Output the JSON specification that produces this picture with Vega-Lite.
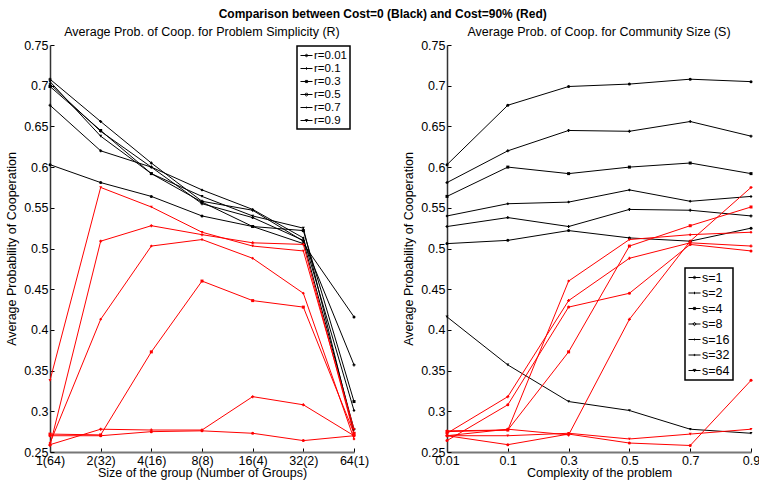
{
  "$schema": "https://vega.github.io/schema/vega-lite/v6.json",
  "padding": {"left": 5, "top": 7, "right": 0, "bottom": 5},
  "title": {
    "text": "Comparison between Cost=0 (Black) and Cost=90% (Red)",
    "fontSize": 12,
    "fontWeight": "bold",
    "anchor": "middle",
    "offset": 5
  },
  "config": {
    "font": "Liberation Sans",
    "view": {"stroke": null},
    "title": {"font": "Liberation Sans", "fontSize": 12.5, "fontWeight": "normal", "color": "black", "offset": 1},
    "axis": {
      "labelFont": "Liberation Sans",
      "labelFontSize": 12.5,
      "labelColor": "black",
      "titleFont": "Liberation Sans",
      "titleFontSize": 12.5,
      "titleFontWeight": "normal",
      "titleColor": "black",
      "grid": false,
      "tickColor": "black",
      "tickSize": -4,
      "domainColor": "#333333",
      "domainWidth": 1.5
    },
    "axisX": {"domainColor": "#777777", "domainWidth": 2, "labelPadding": 6, "titlePadding": 0},
    "axisY": {"labelPadding": 6, "titlePadding": 5},
    "legend": {
      "labelFont": "Liberation Sans",
      "labelColor": "black",
      "strokeColor": "black",
      "strokeWidth": 1.5,
      "fillColor": "white",
      "padding": 3,
      "title": null,
      "labelOffset": 1
    }
  },
  "datasets": {
    "coop": [
      {"r": 0.01, "s": 1, "cost": "0", "p": 0.603},
      {"r": 0.01, "s": 2, "cost": "0", "p": 0.581},
      {"r": 0.01, "s": 4, "cost": "0", "p": 0.564},
      {"r": 0.01, "s": 8, "cost": "0", "p": 0.540},
      {"r": 0.01, "s": 16, "cost": "0", "p": 0.527},
      {"r": 0.01, "s": 32, "cost": "0", "p": 0.506},
      {"r": 0.01, "s": 64, "cost": "0", "p": 0.416},
      {"r": 0.1, "s": 1, "cost": "0", "p": 0.676},
      {"r": 0.1, "s": 2, "cost": "0", "p": 0.620},
      {"r": 0.1, "s": 4, "cost": "0", "p": 0.600},
      {"r": 0.1, "s": 8, "cost": "0", "p": 0.555},
      {"r": 0.1, "s": 16, "cost": "0", "p": 0.538},
      {"r": 0.1, "s": 32, "cost": "0", "p": 0.510},
      {"r": 0.1, "s": 64, "cost": "0", "p": 0.357},
      {"r": 0.3, "s": 1, "cost": "0", "p": 0.699},
      {"r": 0.3, "s": 2, "cost": "0", "p": 0.645},
      {"r": 0.3, "s": 4, "cost": "0", "p": 0.592},
      {"r": 0.3, "s": 8, "cost": "0", "p": 0.557},
      {"r": 0.3, "s": 16, "cost": "0", "p": 0.527},
      {"r": 0.3, "s": 32, "cost": "0", "p": 0.522},
      {"r": 0.3, "s": 64, "cost": "0", "p": 0.312},
      {"r": 0.5, "s": 1, "cost": "0", "p": 0.702},
      {"r": 0.5, "s": 2, "cost": "0", "p": 0.644},
      {"r": 0.5, "s": 4, "cost": "0", "p": 0.600},
      {"r": 0.5, "s": 8, "cost": "0", "p": 0.572},
      {"r": 0.5, "s": 16, "cost": "0", "p": 0.548},
      {"r": 0.5, "s": 32, "cost": "0", "p": 0.513},
      {"r": 0.5, "s": 64, "cost": "0", "p": 0.301},
      {"r": 0.7, "s": 1, "cost": "0", "p": 0.708},
      {"r": 0.7, "s": 2, "cost": "0", "p": 0.656},
      {"r": 0.7, "s": 4, "cost": "0", "p": 0.605},
      {"r": 0.7, "s": 8, "cost": "0", "p": 0.558},
      {"r": 0.7, "s": 16, "cost": "0", "p": 0.547},
      {"r": 0.7, "s": 32, "cost": "0", "p": 0.509},
      {"r": 0.7, "s": 64, "cost": "0", "p": 0.278},
      {"r": 0.9, "s": 1, "cost": "0", "p": 0.705},
      {"r": 0.9, "s": 2, "cost": "0", "p": 0.638},
      {"r": 0.9, "s": 4, "cost": "0", "p": 0.592},
      {"r": 0.9, "s": 8, "cost": "0", "p": 0.564},
      {"r": 0.9, "s": 16, "cost": "0", "p": 0.540},
      {"r": 0.9, "s": 32, "cost": "0", "p": 0.525},
      {"r": 0.9, "s": 64, "cost": "0", "p": 0.273},
      {"r": 0.01, "s": 1, "cost": "90%", "p": 0.270},
      {"r": 0.01, "s": 2, "cost": "90%", "p": 0.270},
      {"r": 0.01, "s": 4, "cost": "90%", "p": 0.275},
      {"r": 0.01, "s": 8, "cost": "90%", "p": 0.276},
      {"r": 0.01, "s": 16, "cost": "90%", "p": 0.273},
      {"r": 0.01, "s": 32, "cost": "90%", "p": 0.264},
      {"r": 0.01, "s": 64, "cost": "90%", "p": 0.270},
      {"r": 0.1, "s": 1, "cost": "90%", "p": 0.259},
      {"r": 0.1, "s": 2, "cost": "90%", "p": 0.278},
      {"r": 0.1, "s": 4, "cost": "90%", "p": 0.277},
      {"r": 0.1, "s": 8, "cost": "90%", "p": 0.277},
      {"r": 0.1, "s": 16, "cost": "90%", "p": 0.318},
      {"r": 0.1, "s": 32, "cost": "90%", "p": 0.308},
      {"r": 0.1, "s": 64, "cost": "90%", "p": 0.270},
      {"r": 0.3, "s": 1, "cost": "90%", "p": 0.272},
      {"r": 0.3, "s": 2, "cost": "90%", "p": 0.271},
      {"r": 0.3, "s": 4, "cost": "90%", "p": 0.373},
      {"r": 0.3, "s": 8, "cost": "90%", "p": 0.460},
      {"r": 0.3, "s": 16, "cost": "90%", "p": 0.436},
      {"r": 0.3, "s": 32, "cost": "90%", "p": 0.428},
      {"r": 0.3, "s": 64, "cost": "90%", "p": 0.273},
      {"r": 0.5, "s": 1, "cost": "90%", "p": 0.261},
      {"r": 0.5, "s": 2, "cost": "90%", "p": 0.413},
      {"r": 0.5, "s": 4, "cost": "90%", "p": 0.503},
      {"r": 0.5, "s": 8, "cost": "90%", "p": 0.511},
      {"r": 0.5, "s": 16, "cost": "90%", "p": 0.488},
      {"r": 0.5, "s": 32, "cost": "90%", "p": 0.445},
      {"r": 0.5, "s": 64, "cost": "90%", "p": 0.266},
      {"r": 0.7, "s": 1, "cost": "90%", "p": 0.258},
      {"r": 0.7, "s": 2, "cost": "90%", "p": 0.509},
      {"r": 0.7, "s": 4, "cost": "90%", "p": 0.528},
      {"r": 0.7, "s": 8, "cost": "90%", "p": 0.517},
      {"r": 0.7, "s": 16, "cost": "90%", "p": 0.507},
      {"r": 0.7, "s": 32, "cost": "90%", "p": 0.505},
      {"r": 0.7, "s": 64, "cost": "90%", "p": 0.272},
      {"r": 0.9, "s": 1, "cost": "90%", "p": 0.338},
      {"r": 0.9, "s": 2, "cost": "90%", "p": 0.575},
      {"r": 0.9, "s": 4, "cost": "90%", "p": 0.551},
      {"r": 0.9, "s": 8, "cost": "90%", "p": 0.520},
      {"r": 0.9, "s": 16, "cost": "90%", "p": 0.503},
      {"r": 0.9, "s": 32, "cost": "90%", "p": 0.497},
      {"r": 0.9, "s": 64, "cost": "90%", "p": 0.278}
    ]
  },
  "data": {"name": "coop"},
  "spacing": 33,
  "hconcat": [
    {
      "width": 304,
      "height": 407,
      "title": "Average  Prob. of Coop. for Problem Simplicity (R)",
      "encoding": {
        "x": {
          "field": "s",
          "type": "ordinal",
          "scale": {"type": "point", "padding": 0, "domain": [1, 2, 4, 8, 16, 32, 64]},
          "axis": {
            "title": "Size of the group (Number of Groups)",
            "labelAngle": 0,
            "labelExpr": "datum.value + '(' + (64 / datum.value) + ')'"
          }
        },
        "y": {
          "field": "p",
          "type": "quantitative",
          "scale": {"domain": [0.25, 0.75], "nice": false, "zero": false},
          "axis": {
            "title": "Average  Probability of Cooperation",
            "values": [0.25, 0.3, 0.35, 0.4, 0.45, 0.5, 0.55, 0.6, 0.65, 0.7, 0.75],
            "format": ".2~f"
          }
        }
      },
      "layer": [
        {
          "mark": {"type": "line", "strokeWidth": 1},
          "encoding": {
            "color": {"field": "cost", "type": "nominal", "scale": {"domain": ["0", "90%"], "range": ["#000000", "#ff0000"]}, "legend": null},
            "detail": {"field": "r"}
          }
        },
        {
          "mark": {"type": "point", "filled": true, "size": 9, "opacity": 1},
          "encoding": {
            "color": {"field": "cost", "type": "nominal", "scale": {"domain": ["0", "90%"], "range": ["#000000", "#ff0000"]}, "legend": null},
            "shape": {
              "field": "r",
              "type": "nominal",
              "scale": {"domain": [0.01, 0.1, 0.3, 0.5, 0.7, 0.9], "range": ["circle", "cross", "square", "diamond", "cross", "triangle-down"]},
              "legend": null
            }
          }
        },
        {
          "mark": {"type": "point", "opacity": 0, "color": "black", "filled": false, "strokeWidth": 1},
          "encoding": {
            "shape": {
              "field": "r",
              "type": "nominal",
              "scale": {
                "domain": [0.01, 0.1, 0.3, 0.5, 0.7, 0.9],
                "range": [
                  "M-1,0H1M0.2,0A0.2,0.2 0 1,1 -0.2,0A0.2,0.2 0 1,1 0.2,0Z",
                  "M-1,0H1M0,-0.2V0.2",
                  "M-1,0H1M-0.18,-0.18H0.18V0.18H-0.18Z",
                  "M-1,0H1M0,-0.28L0.28,0L0,0.28L-0.28,0Z",
                  "M-1,0H1M0,-0.15V0.15",
                  "M-1,0H1M-0.2,-0.15H0.2L0,0.2Z"
                ]
              },
              "legend": {
                "orient": "none",
                "legendX": 247,
                "legendY": 1,
                "symbolSize": 144,
                "labelFontSize": 11.5,
                "rowPadding": 1,
                "symbolStrokeColor": "black",
                "symbolStrokeWidth": 1,
                "symbolOpacity": 1,
                "labelExpr": "'r=' + datum.label"
              }
            }
          }
        }
      ],
      "resolve": {"scale": {"shape": "independent"}}
    },
    {
      "width": 304,
      "height": 407,
      "title": "Average  Prob. of Coop. for Community Size (S)",
      "encoding": {
        "x": {
          "field": "r",
          "type": "ordinal",
          "scale": {"type": "point", "padding": 0, "domain": [0.01, 0.1, 0.3, 0.5, 0.7, 0.9]},
          "axis": {"title": "Complexity of the problem", "labelAngle": 0}
        },
        "y": {
          "field": "p",
          "type": "quantitative",
          "scale": {"domain": [0.25, 0.75], "nice": false, "zero": false},
          "axis": {
            "title": "Average Probability of Cooperation",
            "values": [0.25, 0.3, 0.35, 0.4, 0.45, 0.5, 0.55, 0.6, 0.65, 0.7, 0.75],
            "format": ".2~f"
          }
        }
      },
      "layer": [
        {
          "mark": {"type": "line", "strokeWidth": 1},
          "encoding": {
            "color": {"field": "cost", "type": "nominal", "scale": {"domain": ["0", "90%"], "range": ["#000000", "#ff0000"]}, "legend": null},
            "detail": {"field": "s"}
          }
        },
        {
          "mark": {"type": "point", "filled": true, "size": 9, "opacity": 1},
          "encoding": {
            "color": {"field": "cost", "type": "nominal", "scale": {"domain": ["0", "90%"], "range": ["#000000", "#ff0000"]}, "legend": null},
            "shape": {
              "field": "s",
              "type": "nominal",
              "scale": {"domain": [1, 2, 4, 8, 16, 32, 64], "range": ["circle", "cross", "square", "diamond", "cross", "circle", "triangle-down"]},
              "legend": null
            }
          }
        },
        {
          "mark": {"type": "point", "opacity": 0, "color": "black", "filled": false, "strokeWidth": 1},
          "encoding": {
            "shape": {
              "field": "s",
              "type": "nominal",
              "scale": {
                "domain": [1, 2, 4, 8, 16, 32, 64],
                "range": [
                  "M-1,0H1M0.2,0A0.2,0.2 0 1,1 -0.2,0A0.2,0.2 0 1,1 0.2,0Z",
                  "M-1,0H1M0,-0.2V0.2",
                  "M-1,0H1M-0.18,-0.18H0.18V0.18H-0.18Z",
                  "M-1,0H1M0,-0.28L0.28,0L0,0.28L-0.28,0Z",
                  "M-1,0H1M0,-0.15V0.15",
                  "M-1,0H1M0.1,0A0.1,0.1 0 1,1 -0.1,0A0.1,0.1 0 1,1 0.1,0Z",
                  "M-1,0H1M-0.22,-0.18H0.22L0,0.22Z"
                ]
              },
              "legend": {
                "orient": "none",
                "legendX": 238,
                "legendY": 223,
                "symbolSize": 144,
                "labelFontSize": 12.5,
                "rowPadding": 2.5,
                "symbolStrokeColor": "black",
                "symbolStrokeWidth": 1,
                "symbolOpacity": 1,
                "labelExpr": "'s=' + datum.label"
              }
            }
          }
        }
      ],
      "resolve": {"scale": {"shape": "independent"}}
    }
  ]
}
